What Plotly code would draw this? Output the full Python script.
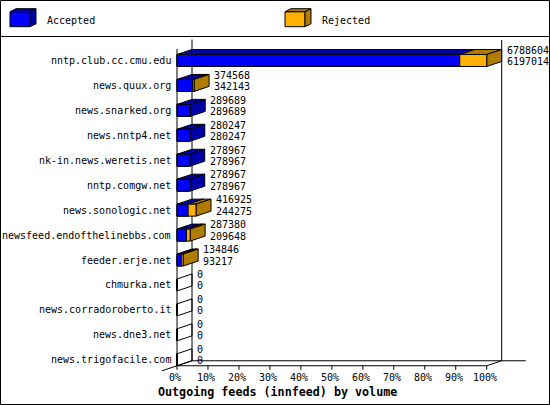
import plotly.graph_objects as go

# Data
hosts = [
    "nntp.club.cc.cmu.edu", "news.quux.org", "news.snarked.org", "news.nntp4.net",
    "nk-in.news.weretis.net", "nntp.comgw.net", "news.sonologic.net",
    "newsfeed.endofthelinebbs.com", "feeder.erje.net", "chmurka.net",
    "news.corradoroberto.it", "news.dne3.net", "news.trigofacile.com",
]
offered = [6788604, 374568, 289689, 280247, 278967, 278967, 416925, 287380, 134846, 0, 0, 0, 0]
accepted = [6197014, 342143, 289689, 280247, 278967, 278967, 244275, 209648, 93217, 0, 0, 0, 0]
pct_ticks = [0, 10, 20, 30, 40, 50, 60, 70, 80, 90, 100]
pct_labels = ["0%", "10%", "20%", "30%", "40%", "50%", "60%", "70%", "80%", "90%", "100%"]
series_names = ["Accepted", "Rejected"]
title = "Outgoing feeds (innfeed) by volume"

# Colours
BLUE, BLUE_DARK = "#0000FF", "#0000A8"
ORANGE, ORANGE_DARK = "#FFB000", "#B07C00"
FONT = "DejaVu Sans Mono"

# Geometry (pixels of the 550x405 picture)
W, H = 550, 405
X0_PX, PX_PER_PCT = 177, 3.097
ROW0_PX, ROW_PX = 60.5, 24.94


def px_x(p):
    return (p - X0_PX) / PX_PER_PCT


def px_y(p):
    return (p - ROW0_PX) / ROW_PX


DX = 15 / PX_PER_PCT
DY = 5 / ROW_PX
HALF = 6 / ROW_PX

peak = max(offered)
off_pct = [v / peak * 100 for v in offered]
acc_pct = [v / peak * 100 for v in accepted]
rows = list(range(len(hosts)))
floor = rows[-1] + HALF

shapes = []
annotations = []


def line(x0, y0, x1, y1):
    shapes.append(dict(type="line", x0=x0, y0=y0, x1=x1, y1=y1, xref="x", yref="y",
                       line=dict(color="black", width=1), layer="below"))


def poly(pts, fill, layer="below"):
    path = "M " + " L ".join(f"{x},{y}" for x, y in pts) + " Z"
    shapes.append(dict(type="path", path=path, xref="x", yref="y", fillcolor=fill,
                       line=dict(color="black", width=1), layer=layer))


def text(x, y, s, anchor="left", size=10):
    annotations.append(dict(x=x, y=y, xref="x", yref="y", text=s, showarrow=False,
                            xanchor=anchor, yanchor="middle",
                            font=dict(family=FONT, size=size, color="black")))


# 3D frame
line(0, floor, 0, px_y(49))
line(DX, floor - DY, DX, px_y(39.5))
line(100 + DX, floor - DY, 100 + DX, px_y(40))
line(-DX, floor + DY, DX, floor - DY)
line(DX, floor - DY, px_x(525.7), floor - DY)
line(0, floor, 100, floor)
line(100, floor, 100 + DX, floor - DY)
for t, lab in zip(pct_ticks, pct_labels):
    line(t, floor, t, floor + 4 / ROW_PX)
    text(t - 2 / PX_PER_PCT, px_y(377.7), lab, anchor="center")

# top and side faces of the bars
for i in rows:
    top, bot = i - HALF, i + HALF
    a, o = acc_pct[i], off_pct[i]
    if o == 0:
        poly([(0, top), (DX, top - DY), (DX, bot - DY), (0, bot)], "rgba(0,0,0,0)")
    else:
        poly([(0, top), (a, top), (a + DX, top - DY), (DX, top - DY)], BLUE_DARK)
        poly([(a, top), (a + DX, top - DY), (a + DX, bot - DY), (a, bot)], BLUE_DARK)
        if o > a:
            poly([(a, top), (o, top), (o + DX, top - DY), (a + DX, top - DY)], ORANGE_DARK)
            poly([(o, top), (o + DX, top - DY), (o + DX, bot - DY), (o, bot)], ORANGE_DARK)
    tx = o + DX + 3 / PX_PER_PCT
    text(tx, i - 0.41, str(offered[i]))
    text(tx, i + 0.04, str(accepted[i]))
    text(px_x(173), i, hosts[i], anchor="right")

# legend cubes
for (fx, col, dark), name in zip([(10, BLUE, BLUE_DARK), (285, ORANGE, ORANGE_DARK)], series_names):
    poly([(px_x(fx), px_y(11.7)), (px_x(fx + 20), px_y(11.7)),
          (px_x(fx + 20), px_y(26.7)), (px_x(fx), px_y(26.7))], col, "above")
    poly([(px_x(fx), px_y(11.7)), (px_x(fx + 20), px_y(11.7)),
          (px_x(fx + 26), px_y(8.7)), (px_x(fx + 6), px_y(8.7))], dark, "above")
    poly([(px_x(fx + 20), px_y(11.7)), (px_x(fx + 26), px_y(8.7)),
          (px_x(fx + 26), px_y(23.7)), (px_x(fx + 20), px_y(26.7))], dark, "above")
    text(px_x(fx + 35), px_y(20.5), name)

# legend separator and border
shapes.append(dict(type="line", xref="paper", yref="paper", x0=0, x1=1,
                   y0=1 - 36.5 / H, y1=1 - 36.5 / H, line=dict(color="black", width=1)))
shapes.append(dict(type="rect", xref="paper", yref="paper", x0=0.5 / W, x1=1 - 0.5 / W,
                   y0=0.5 / H, y1=1 - 0.5 / H, line=dict(color="black", width=1)))

annotations.append(dict(x=px_x(155.7), y=px_y(391.7), xref="x", yref="y",
                        text="<b>" + title + "</b>", showarrow=False,
                        xanchor="left", yanchor="middle",
                        font=dict(family=FONT, size=11.7, color="black")))

fig = go.Figure()
fig.add_trace(go.Bar(y=rows, x=off_pct, orientation="h", width=2 * HALF, name="Rejected",
                     marker=dict(color=ORANGE, line=dict(color="black", width=1))))
fig.add_trace(go.Bar(y=rows, x=acc_pct, orientation="h", width=2 * HALF, name="Accepted",
                     marker=dict(color=BLUE, line=dict(color="black", width=1))))

fig.update_layout(
    width=W, height=H,
    margin=dict(l=0, r=0, t=0, b=0),
    barmode="overlay",
    showlegend=False,
    paper_bgcolor="white",
    plot_bgcolor="white",
    xaxis=dict(visible=False, range=[px_x(0), px_x(W)], fixedrange=True),
    yaxis=dict(visible=False, range=[px_y(H), px_y(0)], fixedrange=True),
    shapes=shapes,
    annotations=annotations,
)

# page margin off so the 550x405 figure fills the window
fig.write_html("out.html", config={"displayModeBar": False},
               post_script="document.body.style.margin='0';")
